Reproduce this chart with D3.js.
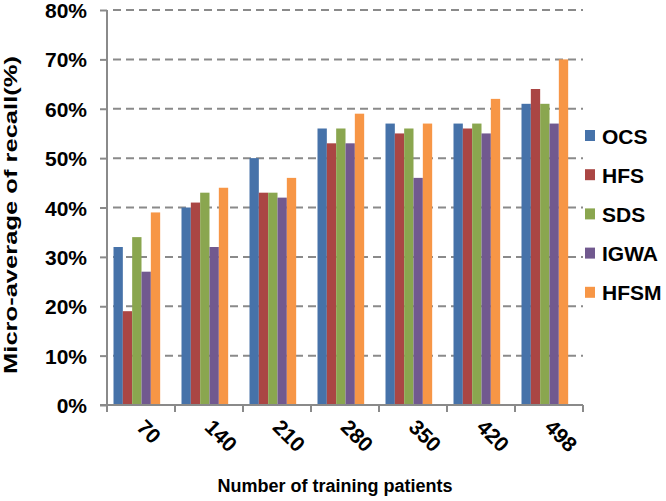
<!DOCTYPE html>
<html><head><meta charset="utf-8">
<script src="https://cdn.jsdelivr.net/npm/d3@7"></script>
<style>
html,body{margin:0;padding:0;background:#fff;}
text{font-family:"Liberation Sans",Arial,sans-serif;font-weight:bold;fill:#000;}
</style></head>
<body><svg id="chart" width="666" height="501"></svg>
<script>
const categories = ["70","140","210","280","350","420","498"];
const seriesNames = ["OCS","HFS","SDS","IGWA","HFSM"];
const OCS  = [32,40,50,56,57,57,61];
const HFS  = [19,41,43,53,55,56,64];
const SDS  = [34,43,43,56,56,57,61];
const IGWA = [27,32,42,53,46,55,57];
const HFSM = [39,44,46,59,57,62,70];
const seriesValues = [OCS,HFS,SDS,IGWA,HFSM];
const colors = ["#4672A9","#AA4644","#8AA64F","#71598F","#F79646"];
const yTicks = [0,10,20,30,40,50,60,70,80];

const svg = d3.select("#chart");
const L = 107, R = 583, T = 10, B = 405;

const x = d3.scaleBand().domain(categories).range([L, R]).padding(0);
const barW = x.bandwidth() * 56 / 68 / 6;
const x1 = d3.scaleBand().domain(seriesNames).range([6.5, 6.5 + barW * 5]).padding(0);
const y = d3.scaleLinear().domain([0, 80]).range([B, T]);

// gridlines
svg.append("g").selectAll("line").data(yTicks.filter(d => d > 0)).join("line")
  .attr("x1", L + 1).attr("x2", R)
  .attr("y1", d => y(d)).attr("y2", d => y(d))
  .attr("stroke", "#8a8a8a").attr("stroke-width", 2)
  .attr("stroke-dasharray", "8,5").attr("stroke-dashoffset", -5);

// bars
const groups = svg.append("g").selectAll("g").data(categories).join("g")
  .attr("transform", d => `translate(${x(d)},0)`);
groups.selectAll("rect")
  .data((c, i) => seriesNames.map((s, j) => ({s, j, v: seriesValues[j][i]})))
  .join("rect")
  .attr("x", d => x1(d.s))
  .attr("y", d => y(d.v))
  .attr("width", x1.bandwidth())
  .attr("height", d => B - y(d.v))
  .attr("fill", d => colors[d.j]);

// y axis
const yAxis = svg.append("g").attr("transform", `translate(${L},0)`)
  .call(d3.axisLeft(y).tickValues(yTicks).tickSize(7).tickPadding(13).tickFormat(d => d + "%"));
yAxis.select(".domain").attr("stroke", "#8a8a8a").attr("stroke-width", 2).attr("d", `M0,${T}V${B}`);
yAxis.selectAll(".tick line").attr("stroke", "#8a8a8a").attr("stroke-width", 2);
yAxis.selectAll(".tick text").style("font-size", "21px").attr("dy", "0.36em");

// x axis
const xAxisG = svg.append("g");
xAxisG.append("line").attr("x1", L - 7).attr("x2", R).attr("y1", B).attr("y2", B)
  .attr("stroke", "#8a8a8a").attr("stroke-width", 2);
const bounds = categories.map(c => x(c)).concat([R]);
xAxisG.selectAll("line.tk").data(bounds).join("line").attr("class", "tk")
  .attr("x1", d => d).attr("x2", d => d).attr("y1", B).attr("y2", B + 7)
  .attr("stroke", "#8a8a8a").attr("stroke-width", 2);
xAxisG.selectAll("text").data(categories).join("text")
  .attr("transform", d => `translate(${x(d) + x.bandwidth() / 2 + 5},${B + 13}) rotate(45)`)
  .attr("dy", "0.7em")
  .attr("text-anchor", "start")
  .style("font-size", "21px")
  .text(d => d);

// axis titles
svg.append("text").attr("x", (L + R) / 2 - 10).attr("y", 492)
  .attr("text-anchor", "middle").style("font-size", "18px")
  .text("Number of training patients");
svg.append("text").attr("transform", `translate(17,${215}) rotate(-90)`)
  .attr("text-anchor", "middle").style("font-size", "19px")
  .attr("textLength", 318).attr("lengthAdjust", "spacingAndGlyphs")
  .text("Micro-average of recall(%)");

// legend
const leg = svg.append("g").attr("transform", "translate(585,136)");
const items = leg.selectAll("g").data(seriesNames).join("g")
  .attr("transform", (d, i) => `translate(0,${i * 39.2})`);
items.append("rect").attr("x", 0).attr("y", -6).attr("width", 10).attr("height", 11)
  .attr("fill", (d, i) => colors[i]);
items.append("text").attr("x", 17).attr("dy", "0.36em").style("font-size", "21px").text(d => d);
</script></body></html>
